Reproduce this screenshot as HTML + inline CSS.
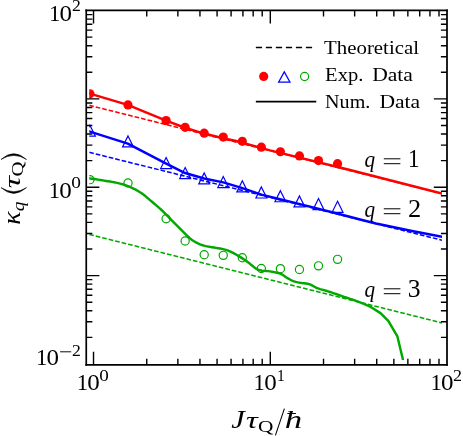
<!DOCTYPE html>
<html><head><meta charset="utf-8"><title>kappa_q vs J tau_Q / hbar</title>
<style>
html,body{margin:0;padding:0;background:#fff;}
svg{display:block;will-change:transform;}
text{font-family:"Liberation Serif",serif;fill:#000;font-kerning:none;}
.it{font-style:italic;}
</style></head><body>
<svg width="463" height="436" viewBox="0 0 463 436">
<rect x="0" y="0" width="463" height="436" fill="#fff"/>
<defs><clipPath id="cp"><rect x="89.25" y="12" width="352.75" height="348.1"/></clipPath></defs>
<g clip-path="url(#cp)" fill="none"><g transform="translate(0 0.35)">
<path d="M89.25 105L442 193.29" stroke="#ff0000" stroke-width="1.5" stroke-dasharray="4.675 2.005"/>
<path d="M89.25 152L442 239.83" stroke="#0000ff" stroke-width="1.5" stroke-dasharray="4.675 2.005"/>
<path d="M89.25 234.1L442 322.57" stroke="#00a800" stroke-width="1.5" stroke-dasharray="4.675 2.005"/>
<path d="M86 92.15L89.9 93.3L127.7 104.6L166.1 120.3L185 127.4L204 133.2L223 137.9L235 140.4L270 150L350 169.6L441.85 193.2L445 194" stroke="#ff0000" stroke-width="2.45" stroke-linejoin="round"/>
<path d="M86 129.95L89.9 131.2L127.8 143.2L166.2 163.2L185.1 172.7L204.1 178.1L223.3 182L242.4 187.8L261.4 194.3L280 198.9L300 203.8L340 213.95L364 220.1L376 223.1L388 225.65L400 228.1L412 230.6L425 233.2L442 236.4L445 236.95" stroke="#0000ff" stroke-width="2.45" stroke-linejoin="round"/>
<path d="M86 177.6L88 177.84L90 178.1L92 178.38L94 178.67L96 178.98L98 179.29L100 179.62L102 179.94L104 180.27L106 180.59L108 180.92L110 181.22L112 181.54L114 181.9L116 182.32L118 182.78L120 183.28L122 183.83L124 184.42L126 185.07L128 185.77L130 186.56L132 187.45L134 188.44L136 189.51L138 190.66L140 191.88L142 193.17L144 194.59L146 196.24L148 198.01L150 199.75L152 201.43L154 203.09L156 204.78L158 206.49L160 208.27L162 210.13L164 212.08L166 214.09L168 216.14L170 218.18L172 220.2L174 222.22L176 224.25L178 226.28L180 228.27L182 230.22L184 232.16L186 234.18L188 236.16L190 238L192 239.6L194 240.88L196 242.01L198 243.03L200 243.93L202 244.69L204 245.3L206 245.77L208 246.16L210 246.5L212 246.82L214 247.15L216 247.52L218 247.86L220 248.2L222 248.57L224 249L226 249.51L228 250.21L230 251.07L232 252.05L234 253.1L236 254.19L238 255.29L240 256.5L242 257.78L244 259.12L246 260.5L248 261.99L250 263.5L252 265.11L254 266.79L256 268.26L258 269.25L260 269.96L262 270.36L264 270.5L266 270.6L268 270.75L270 271.01L272 271.35L274 271.74L276 272.14L278 272.59L280 273.17L282 274.11L284 275.44L286 276.86L288 278.07L290 279.18L292 280.19L294 280.98L296 281.57L298 282.05L300 282.43L302 282.71L304 282.92L306 283.14L308 283.45L310 284.07L312 285.03L314 286.15L316 287.22L318 288.07L320 288.71L322 289.27L324 289.81L326 290.38L328 291L330 291.64L332 292.29L334 292.95L336 293.63L338 294.31L340 295L342 295.71L344 296.43L346 297.14L348 297.83L350 298.5L352 299.17L354 299.83L356 300.52L358 301.23L360 301.97L362 302.76L364 303.6L366 304.49L368 305.41L370 306.37L371.5 307.1L380.5 312.8L388.3 320.5L397.4 336.1L403.1 359.9L404.1 364" stroke="#00a800" stroke-width="2.45" stroke-linejoin="round"/>
<circle cx="89.9" cy="93.45" r="4.6" fill="#ff0000"/>
<circle cx="128" cy="104.6" r="4.6" fill="#ff0000"/>
<circle cx="166.1" cy="120.2" r="4.6" fill="#ff0000"/>
<circle cx="185.15" cy="127" r="4.6" fill="#ff0000"/>
<circle cx="204.2" cy="132.8" r="4.6" fill="#ff0000"/>
<circle cx="223.25" cy="136.7" r="4.6" fill="#ff0000"/>
<circle cx="242.3" cy="140.95" r="4.6" fill="#ff0000"/>
<circle cx="261.35" cy="146.8" r="4.6" fill="#ff0000"/>
<circle cx="280.4" cy="151.4" r="4.6" fill="#ff0000"/>
<circle cx="299.45" cy="155.6" r="4.6" fill="#ff0000"/>
<circle cx="318.5" cy="160.2" r="4.6" fill="#ff0000"/>
<circle cx="337.55" cy="163.35" r="4.6" fill="#ff0000"/>
<path d="M89.9 124.8L95.35 135.85L84.45 135.85Z" stroke="#0000ff" stroke-width="1.2" stroke-linejoin="miter"/>
<path d="M128 135.55L133.45 146.6L122.55 146.6Z" stroke="#0000ff" stroke-width="1.2" stroke-linejoin="miter"/>
<path d="M166.1 157.2L171.55 168.25L160.65 168.25Z" stroke="#0000ff" stroke-width="1.2" stroke-linejoin="miter"/>
<path d="M185.15 167.15L190.6 178.2L179.7 178.2Z" stroke="#0000ff" stroke-width="1.2" stroke-linejoin="miter"/>
<path d="M204.2 172.55L209.65 183.6L198.75 183.6Z" stroke="#0000ff" stroke-width="1.2" stroke-linejoin="miter"/>
<path d="M223.25 176.15L228.7 187.2L217.8 187.2Z" stroke="#0000ff" stroke-width="1.2" stroke-linejoin="miter"/>
<path d="M242.3 180.5L247.75 191.55L236.85 191.55Z" stroke="#0000ff" stroke-width="1.2" stroke-linejoin="miter"/>
<path d="M261.35 186.6L266.8 197.65L255.9 197.65Z" stroke="#0000ff" stroke-width="1.2" stroke-linejoin="miter"/>
<path d="M280.4 190.35L285.85 201.4L274.95 201.4Z" stroke="#0000ff" stroke-width="1.2" stroke-linejoin="miter"/>
<path d="M299.45 195.55L304.9 206.6L294 206.6Z" stroke="#0000ff" stroke-width="1.2" stroke-linejoin="miter"/>
<path d="M318.5 198.25L323.95 209.3L313.05 209.3Z" stroke="#0000ff" stroke-width="1.2" stroke-linejoin="miter"/>
<path d="M337.55 200.95L343 212L332.1 212Z" stroke="#0000ff" stroke-width="1.2" stroke-linejoin="miter"/>
<circle cx="89.9" cy="179.3" r="4.1" stroke="#00a800" stroke-width="1.2"/>
<circle cx="128" cy="182.6" r="4.1" stroke="#00a800" stroke-width="1.2"/>
<circle cx="166.1" cy="218.4" r="4.1" stroke="#00a800" stroke-width="1.2"/>
<circle cx="185.15" cy="240.6" r="4.1" stroke="#00a800" stroke-width="1.2"/>
<circle cx="204.2" cy="254.4" r="4.1" stroke="#00a800" stroke-width="1.2"/>
<circle cx="223.25" cy="255" r="4.1" stroke="#00a800" stroke-width="1.2"/>
<circle cx="242.3" cy="257.4" r="4.1" stroke="#00a800" stroke-width="1.2"/>
<circle cx="261.35" cy="268.1" r="4.1" stroke="#00a800" stroke-width="1.2"/>
<circle cx="280.4" cy="268.3" r="4.1" stroke="#00a800" stroke-width="1.2"/>
<circle cx="299.45" cy="269.2" r="4.1" stroke="#00a800" stroke-width="1.2"/>
<circle cx="318.5" cy="265.5" r="4.1" stroke="#00a800" stroke-width="1.2"/>
<circle cx="337.55" cy="259" r="4.1" stroke="#00a800" stroke-width="1.2"/>
</g></g>
<path d="M93.52 364.78v-13.15M93.52 10.45v13.15M146.74 364.78v-6.1M146.74 10.45v6.1M177.87 364.78v-6.1M177.87 10.45v6.1M199.95 364.78v-6.1M199.95 10.45v6.1M217.08 364.78v-6.1M217.08 10.45v6.1M231.08 364.78v-6.1M231.08 10.45v6.1M242.92 364.78v-6.1M242.92 10.45v6.1M253.17 364.78v-6.1M253.17 10.45v6.1M262.21 364.78v-6.1M262.21 10.45v6.1M270.3 364.78v-13.15M270.3 10.45v13.15M323.52 364.78v-6.1M323.52 10.45v6.1M354.65 364.78v-6.1M354.65 10.45v6.1M376.73 364.78v-6.1M376.73 10.45v6.1M393.86 364.78v-6.1M393.86 10.45v6.1M407.86 364.78v-6.1M407.86 10.45v6.1M419.7 364.78v-6.1M419.7 10.45v6.1M429.95 364.78v-6.1M429.95 10.45v6.1M438.99 364.78v-6.1M438.99 10.45v6.1M86.25 337.35h6.1M447 337.35h-6.1M86.25 321.8h6.1M447 321.8h-6.1M86.25 310.76h6.1M447 310.76h-6.1M86.25 302.2h6.1M447 302.2h-6.1M86.25 295.2h6.1M447 295.2h-6.1M86.25 289.29h6.1M447 289.29h-6.1M86.25 284.16h6.1M447 284.16h-6.1M86.25 279.64h6.1M447 279.64h-6.1M86.25 275.6h13.15M447 275.6h-13.15M86.25 249h6.1M447 249h-6.1M86.25 233.45h6.1M447 233.45h-6.1M86.25 222.41h6.1M447 222.41h-6.1M86.25 213.85h6.1M447 213.85h-6.1M86.25 206.85h6.1M447 206.85h-6.1M86.25 200.94h6.1M447 200.94h-6.1M86.25 195.81h6.1M447 195.81h-6.1M86.25 191.29h6.1M447 191.29h-6.1M86.25 187.25h13.15M447 187.25h-13.15M86.25 160.65h6.1M447 160.65h-6.1M86.25 145.1h6.1M447 145.1h-6.1M86.25 134.06h6.1M447 134.06h-6.1M86.25 125.5h6.1M447 125.5h-6.1M86.25 118.5h6.1M447 118.5h-6.1M86.25 112.59h6.1M447 112.59h-6.1M86.25 107.46h6.1M447 107.46h-6.1M86.25 102.94h6.1M447 102.94h-6.1M86.25 98.9h13.15M447 98.9h-13.15M86.25 72.3h6.1M447 72.3h-6.1M86.25 56.75h6.1M447 56.75h-6.1M86.25 45.71h6.1M447 45.71h-6.1M86.25 37.15h6.1M447 37.15h-6.1M86.25 30.15h6.1M447 30.15h-6.1M86.25 24.24h6.1M447 24.24h-6.1M86.25 19.11h6.1M447 19.11h-6.1M86.25 14.59h6.1M447 14.59h-6.1" stroke="#000" stroke-width="1.4" fill="none"/>
<path d="M86.25 9.57L86.25 365.63" stroke="#000" stroke-width="1.7" fill="none"/>
<path d="M447 9.57L447 365.63" stroke="#000" stroke-width="1.75" fill="none"/>
<path d="M85.4 10.45L447.88 10.45" stroke="#000" stroke-width="1.8" fill="none"/>
<path d="M85.4 364.78L447.88 364.78" stroke="#000" stroke-width="1.7" fill="none"/>
<path d="M255.85 47.52H312.1" stroke="#000" stroke-width="1.6" stroke-dasharray="6.2 3.81" fill="none"/>
<path d="M255.85 101.68H316.25" stroke="#000" stroke-width="1.65" fill="none"/>
<circle cx="263.68" cy="76.4" r="4.6" fill="#ff0000"/>
<path d="M284.3 71.85L290 82.15L278.6 82.15Z" stroke="#0000ff" stroke-width="1.2" fill="none"/>
<circle cx="304.6" cy="76.5" r="4.05" stroke="#00a800" stroke-width="1.2" fill="none"/>
<text transform="translate(324.02 54.2) scale(1.0700 1)" font-size="19.5">Theoretical</text>
<text transform="translate(325.11 81) scale(1.0540 1)" font-size="19.5">Exp.</text>
<text transform="translate(372.13 81) scale(1.1075 1)" font-size="19.5">Data</text>
<text transform="translate(325.12 107.9) scale(1.0303 1)" font-size="19.5">Num.</text>
<text transform="translate(379.48 107.9) scale(1.1061 1)" font-size="19.5">Data</text>
<text transform="translate(364.55 167.4) scale(0.8834 1)" font-size="24" class="it">q</text>
<path d="M383.8 158.8h16.6M383.8 163.7h16.6" stroke="#000" stroke-width="1.0" fill="none"/>
<text transform="translate(407.98 167.2) scale(0.9391 1)" font-size="24.5">1</text>
<text transform="translate(364.55 217.4) scale(0.8834 1)" font-size="24" class="it">q</text>
<path d="M383.8 208.8h16.6M383.8 213.7h16.6" stroke="#000" stroke-width="1.0" fill="none"/>
<text transform="translate(407.94 217.2) scale(1.0793 1)" font-size="24.5">2</text>
<text transform="translate(364.55 297.4) scale(0.8834 1)" font-size="24" class="it">q</text>
<path d="M383.8 288.8h16.6M383.8 293.7h16.6" stroke="#000" stroke-width="1.0" fill="none"/>
<text transform="translate(407.87 297.2) scale(1.0474 1)" font-size="24.5">3</text>
<text transform="translate(76.8 390.3) scale(0.9670 1)" font-size="23.5">1</text>
<text transform="translate(87.35 390.3) scale(1.0643 1)" font-size="23.5">0</text>
<text transform="translate(99.37 380.6) scale(1.1513 1)" font-size="16.6">0</text>
<text transform="translate(253.6 390.3) scale(0.9670 1)" font-size="23.5">1</text>
<text transform="translate(264.15 390.3) scale(1.0643 1)" font-size="23.5">0</text>
<text transform="translate(277.03 380.6) scale(0.9411 1)" font-size="16.6">1</text>
<text transform="translate(430.5 390.3) scale(0.9670 1)" font-size="23.5">1</text>
<text transform="translate(441.05 390.3) scale(1.0643 1)" font-size="23.5">0</text>
<text transform="translate(453.01 380.6) scale(1.0820 1)" font-size="16.6">2</text>
<text transform="translate(49 20.7) scale(0.9670 1)" font-size="23.5">1</text>
<text transform="translate(59.55 20.7) scale(1.0643 1)" font-size="23.5">0</text>
<text transform="translate(72.02 11) scale(1.0669 1)" font-size="16.6">2</text>
<text transform="translate(48.7 197.6) scale(0.9670 1)" font-size="23.5">1</text>
<text transform="translate(59.25 197.6) scale(1.0643 1)" font-size="23.5">0</text>
<text transform="translate(71.36 187.9) scale(1.1655 1)" font-size="16.6">0</text>
<text transform="translate(36 365.4) scale(0.9670 1)" font-size="23.5">1</text>
<text transform="translate(46.55 365.4) scale(1.0643 1)" font-size="23.5">0</text>
<path d="M60.1 351.8h11.1" stroke="#000" stroke-width="0.95" fill="none"/>
<text transform="translate(72.02 355.7) scale(1.0669 1)" font-size="16.6">2</text>
<text transform="translate(231.24 427.6) scale(1.1858 1)" font-size="25.6" class="it">J</text>
<text transform="translate(245.88 427.6) scale(1.4247 1)" font-size="23" class="it">τ</text>
<text transform="translate(258.12 431.5) scale(1.2360 1)" font-size="17.3">Q</text>
<path d="M275.4 435.3L284.4 408.7" stroke="#000" stroke-width="1.05" fill="none"/>
<text transform="translate(284.84 427.6) scale(1.3595 1)" font-size="25.6" class="it">ħ</text>
<text transform="translate(19.8 224.72) rotate(-90) scale(1.1325 1)" font-size="24.5" class="it">κ</text>
<text transform="translate(23.6 211.3) rotate(-90) scale(1.1278 1)" font-size="17.3" class="it">q</text>
<path d="M1 187.6Q13.75 199.2 26.5 187.6Q13.75 195.7 1 187.6Z" fill="#000" stroke="#000" stroke-width="0.55" stroke-linejoin="round"/>
<text transform="translate(19.8 188.34) rotate(-90) scale(1.4722 1)" font-size="23" class="it">τ</text>
<text transform="translate(23.2 176.55) rotate(-90) scale(1.2012 1)" font-size="17.3">Q</text>
<path d="M1 159.5Q13.75 147.9 26.5 159.5Q13.75 151.4 1 159.5Z" fill="#000" stroke="#000" stroke-width="0.55" stroke-linejoin="round"/>
</svg></body></html>
